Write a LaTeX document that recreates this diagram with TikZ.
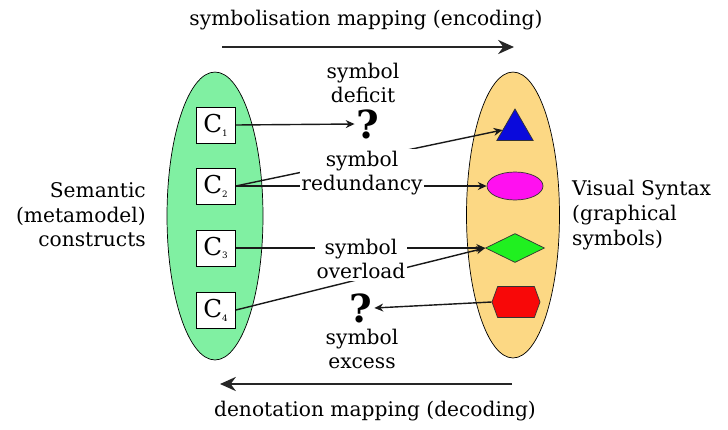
\documentclass[tikz,border=0pt]{standalone}
\usepackage{fontspec}
\setmainfont{DejaVu Serif}
\usepackage{tikz}
\usetikzlibrary{shapes.geometric,shapes.symbols,arrows.meta,positioning}
\definecolor{dnxanhla}{HTML}{80F0A2}
\definecolor{dncam}{HTML}{FCD884}
\definecolor{dnlam}{HTML}{0A0ADC}
\definecolor{dntim}{HTML}{FF10F0}
\definecolor{dnluc}{HTML}{20F020}
\definecolor{dndo}{HTML}{F80808}
\def\mauvien{black!80}

\begin{document}
\begin{tikzpicture}[x=0.02cm,y=-0.02cm,font=\fontsize{11.5}{14}\selectfont]
	\tikzstyle{cbox} = [draw,fill=white,minimum width=.78cm,minimum height=.72cm,inner sep=0pt,font=\fontsize{14}{14}\selectfont]
	\tikzstyle{symstyle} = [draw=\mauvien,inner sep=0pt]
	\tikzstyle{linkstyle} = [-{Stealth[length=5pt,width=4.5pt]},line width=.8pt,black!90]
	\tikzstyle{mapstyle} = [-{Stealth[length=9pt,width=8pt]},line width=1.5pt,black!85]
	\tikzstyle{lbl} = [fill=white,inner sep=1pt,align=center]
	\tikzstyle{qmark} = [font=\fontsize{22}{22}\selectfont\bfseries,inner sep=1pt]
	\useasboundingbox (0,0) rectangle (728,430);
	% the two sets
	\node[draw,ellipse,fill=dnxanhla,minimum width=1.92cm,minimum height=5.76cm] (sem) at (215,216) {};
	\node[draw,ellipse,fill=dncam,minimum width=1.86cm,minimum height=5.72cm] (vis) at (513,215) {};
	\node[align=right,anchor=east] (semtxt) at (152,215) {Semantic\\(metamodel)\\constructs};
	\node[align=left,anchor=west] (vistxt) at (566,215) {Visual Syntax\\(graphical\\symbols)};
	% constructs
	\node[cbox] (c1) at (216,125) {C\textsubscript{\tiny 1}};
	\node[cbox] (c2) at (216,186) {C\textsubscript{\tiny 2}};
	\node[cbox] (c3) at (216,248) {C\textsubscript{\tiny 3}};
	\node[cbox] (c4) at (216,310) {C\textsubscript{\tiny 4}};
	% symbols
	\node[symstyle,regular polygon,regular polygon sides=3,minimum size=.84cm,fill=dnlam] (tri) at (515,130) {};
	\node[symstyle,ellipse,minimum width=1.12cm,minimum height=.56cm,fill=dntim] (ell) at (515,186) {};
	\node[symstyle,diamond,minimum width=1.18cm,minimum height=.58cm,fill=dnluc] (dia) at (515,248) {};
	\node[symstyle,signal,signal to=west and east,signal pointer angle=140,minimum width=.96cm,minimum height=.62cm,fill=dndo] (hex) at (516,302) {};
	\node[qmark] (qdef) at (368,124) {?};
	\node[qmark] (qexc) at (361,308) {?};
	% mappings
	\draw[linkstyle] (c1.east)--(qdef.west);
	\draw[linkstyle] (c2.east)--(tri.west);
	\draw[linkstyle] (c2.east)--(ell.west);
	\draw[linkstyle] (c3.east)--(dia.west);
	\draw[linkstyle] (c4.east)--(dia.west);
	\draw[linkstyle] (hex.west)--(qexc.east);
	\node[lbl] (ldef) at (363,83) {symbol\\deficit};
	\node[lbl] (lred) at (362,173) {symbol\\redundancy};
	\node[lbl] (lovl) at (361,259) {symbol\\overload};
	\node[lbl] (lexc) at (362,349) {symbol\\excess};
	% encoding / decoding
	\coordinate (enc1) at (222,47);
	\coordinate (enc2) at (514,47);
	\coordinate (dec1) at (512,384);
	\coordinate (dec2) at (220,384);
	\draw[mapstyle] (enc1)--(enc2);
	\draw[mapstyle] (dec1)--(dec2);
	\node (enctxt) at (366,20) {symbolisation mapping (encoding)};
	\node (dectxt) at (375,411) {denotation mapping (decoding)};
\end{tikzpicture}
\end{document}
